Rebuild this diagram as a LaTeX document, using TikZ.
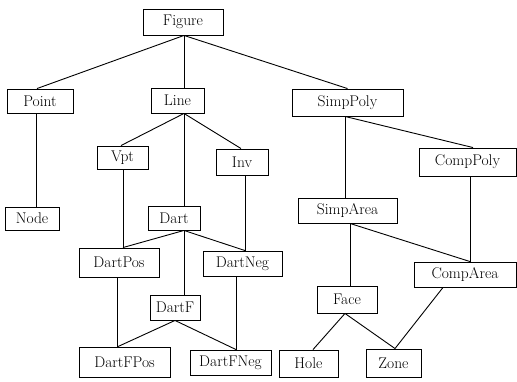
\documentclass[tikz,border=0pt]{standalone}
\usepackage{fontspec}
\usetikzlibrary{positioning}
\begin{document}
\begin{tikzpicture}[x=1pt,y=-1pt,
  box/.style={draw,line width=0.9pt,rectangle,inner sep=0pt,anchor=center,
    font=\fontsize{15.5}{18}\selectfont},
  link/.style={line width=0.9pt}]
\useasboundingbox (0,0) rectangle (517,382);
\node[box,minimum width=80,minimum height=26] (Figure) at (183,22) {Figure};
\node[box,minimum width=66,minimum height=24] (Point) at (40,101) {Point};
\node[box,minimum width=53,minimum height=25] (Line) at (177.5,100.5) {Line};
\node[box,minimum width=111,minimum height=27] (SimpPoly) at (347.5,102.5) {SimpPoly};
\node[box,minimum width=51,minimum height=23] (Vpt) at (122.5,157.5) {Vpt};
\node[box,minimum width=52,minimum height=26] (Inv) at (242,162) {Inv};
\node[box,minimum width=97,minimum height=28] (CompPoly) at (467.5,162) {CompPoly};
\node[box,minimum width=54,minimum height=23] (Node) at (32,218.5) {Node};
\node[box,minimum width=52,minimum height=24] (Dart) at (174,218) {Dart};
\node[box,minimum width=99,minimum height=25] (SimpArea) at (347.5,210.5) {SimpArea};
\node[box,minimum width=80,minimum height=29] (DartPos) at (119,262.5) {DartPos};
\node[box,minimum width=79,minimum height=25] (DartNeg) at (242.5,263.5) {DartNeg};
\node[box,minimum width=102,minimum height=25] (CompArea) at (465,274.5) {CompArea};
\node[box,minimum width=50,minimum height=25] (DartF) at (175,307.5) {DartF};
\node[box,minimum width=60,minimum height=27] (Face) at (347,299.5) {Face};
\node[box,minimum width=91,minimum height=30] (DartFPos) at (124.5,362) {DartFPos};
\node[box,minimum width=81,minimum height=25] (DartFNeg) at (230.5,362.5) {DartFNeg};
\node[box,minimum width=59,minimum height=27] (Hole) at (308.5,363.5) {Hole};
\node[box,minimum width=55,minimum height=28] (Zone) at (393.5,363) {Zone};
\begin{scope}[link]
\draw ([xshift=1pt]Figure.south) -- ([xshift=-3pt]Point.north);
\draw ([xshift=1pt]Figure.south) -- ([xshift=6.5pt]Line.north);
\draw ([xshift=1pt]Figure.south) -- (SimpPoly.north);
\draw ([xshift=-4pt]Point.south) -- ([xshift=4pt]Node.north);
\draw ([xshift=6.5pt]Line.south) -- ([xshift=-1.5pt]Vpt.north);
\draw ([xshift=6.5pt]Line.south) -- ([xshift=10pt]Dart.north);
\draw ([xshift=6.5pt]Line.south) -- ([xshift=-1pt]Inv.north);
\draw ([xshift=0.5pt]Vpt.south) -- ([xshift=4pt]DartPos.north);
\draw ([xshift=3pt]Inv.south) -- ([xshift=2.5pt]DartNeg.north);
\draw ([xshift=10pt]Dart.south) -- ([xshift=4pt]DartPos.north);
\draw ([xshift=10pt]Dart.south) -- ([xshift=2.5pt]DartNeg.north);
\draw ([xshift=10pt]Dart.south) -- ([xshift=9pt]DartF.north);
\draw ([xshift=-2pt]DartPos.south) -- ([xshift=-7.5pt]DartFPos.north);
\draw (DartF.south) -- ([xshift=-6.5pt]DartFPos.north);
\draw (DartF.south) -- ([xshift=5.5pt]DartFNeg.north);
\draw ([xshift=-6.5pt]DartNeg.south) -- ([xshift=5.5pt]DartFNeg.north);
\draw ([xshift=-2.5pt]SimpPoly.south) -- ([xshift=-2.5pt]SimpArea.north);
\draw ([xshift=-2.5pt]SimpPoly.south) -- ([xshift=5.5pt]CompPoly.north);
\draw ([xshift=2.5pt]CompPoly.south) -- ([xshift=5pt]CompArea.north);
\draw ([xshift=2.5pt]SimpArea.south) -- ([xshift=5pt]CompArea.north);
\draw ([xshift=2.5pt]SimpArea.south) -- ([xshift=3pt]Face.north);
\draw ([xshift=-2pt]Face.south) -- ([xshift=4.5pt]Hole.north);
\draw ([xshift=-2pt]Face.south) -- ([xshift=1.5pt]Zone.north);
\draw ([xshift=-22pt]CompArea.south) -- ([xshift=1.5pt]Zone.north);
\end{scope}
\end{tikzpicture}
\end{document}
